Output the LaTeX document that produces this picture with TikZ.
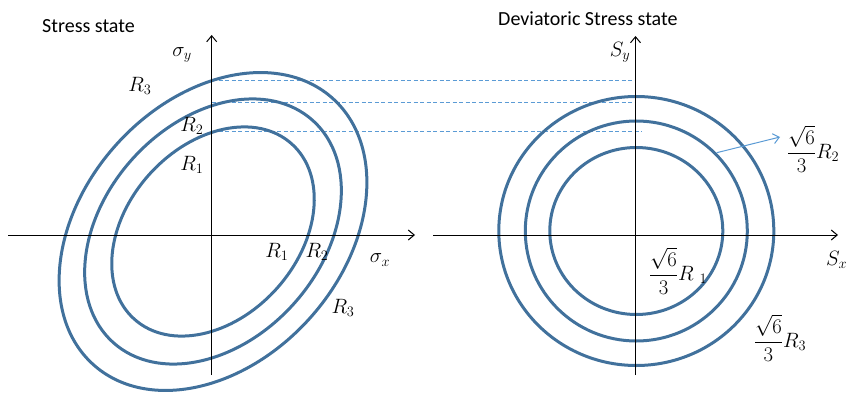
\documentclass[tikz,border=0pt]{standalone}
\usepackage{fontspec}
\setmainfont{Carlito}
\usepackage{amsmath}
\usetikzlibrary{arrows.meta}
\definecolor{ellblue}{RGB}{65,113,156}
\definecolor{lightblue}{RGB}{91,155,213}
\newcommand{\fracsix}{{\fontsize{21}{25}\selectfont$\dfrac{\sqrt{6}}{3}$}}
\begin{document}
\begin{tikzpicture}[x=1pt,y=-1pt,
  axis/.style={line width=1pt,-{Straight Barb[length=6pt,width=10pt]}},
  curve/.style={draw=ellblue,line width=3pt},
  guide/.style={draw=lightblue,line width=0.8pt,dash pattern=on 4pt off 2.5pt},
  pointer/.style={draw=lightblue,line width=1pt,-{Straight Barb[length=6pt,width=10pt]}},
  title/.style={font=\fontsize{20}{24}\selectfont,inner sep=0pt},
  lbl/.style={font=\fontsize{19.5}{23}\selectfont,inner sep=0pt}]
\useasboundingbox (0,0) rectangle (846,393);
% guides
\coordinate (g1a) at (212,80.5);   \coordinate (g1b) at (636,80.5);
\coordinate (g2a) at (212,102.3);  \coordinate (g2b) at (636,102.3);
\coordinate (g3a) at (212,131.7);  \coordinate (g3b) at (641.5,131.7);
\draw[guide] (g1a) -- (g1b);
\draw[guide] (g2a) -- (g2b);
\draw[guide] (g3a) -- (g3b);
% ellipses
\coordinate (lc) at (213,231.5);
\foreach \s in {1,0.834,0.658}
  \draw[curve,shift={(lc)},rotate=48] (0,0) ellipse [x radius=179*\s, y radius=130*\s];
% circles
\coordinate (rc) at (636.3,231);
\draw[curve] (rc) ellipse [x radius=137.5, y radius=134.5];
\draw[curve] (rc) ellipse [x radius=111, y radius=110];
\draw[curve] (rc) ellipse [x radius=86.5, y radius=83.5];
% axes
\coordinate (lx0) at (8,235);     \coordinate (lx1) at (415,235);
\coordinate (ly0) at (211.7,375); \coordinate (ly1) at (211.7,35);
\coordinate (rx0) at (433,235);   \coordinate (rx1) at (838,235);
\coordinate (ry0) at (635.5,375); \coordinate (ry1) at (635.5,36);
\draw[axis] (lx0) -- (lx1);
\draw[axis] (ly0) -- (ly1);
\draw[axis] (rx0) -- (rx1);
\draw[axis] (ry0) -- (ry1);
% titles
\node[title,anchor=base west] (t1) at (42,33) {Stress state};
\node[title,anchor=base west] (t2) at (498,26) {Deviatoric Stress state};
% left labels
\node[lbl] (sy) at (182,55) {$\sigma_y$};
\node[lbl] (sx) at (380,260) {$\sigma_x$};
\node[lbl] (a3) at (140,86) {$R_3$};
\node[lbl] (a2) at (192,126) {$R_2$};
\node[lbl] (a1) at (192,165) {$R_1$};
\node[lbl] (b1) at (277,252) {$R_1$};
\node[lbl] (b2) at (317,252) {$R_2$};
\node[lbl] (b3) at (343,308) {$R_3$};
% right labels
\node[lbl] (Sy) at (620,52) {$S_y$};
\node[lbl,anchor=west] (Sx) at (826,260) {$S_x$};
\node[lbl] (c1) at (678,271) {\fracsix$R\;{}_1$};
\node[lbl] (c2) at (813,149) {\fracsix$R_2$};
\node[lbl] (c3) at (780,338) {\fracsix$R_3$};
% pointer
\coordinate (p2) at (716.7,152.7);
\coordinate (p2tip) at (780,137);
\draw[pointer] (p2) -- (p2tip);
\end{tikzpicture}
\end{document}
